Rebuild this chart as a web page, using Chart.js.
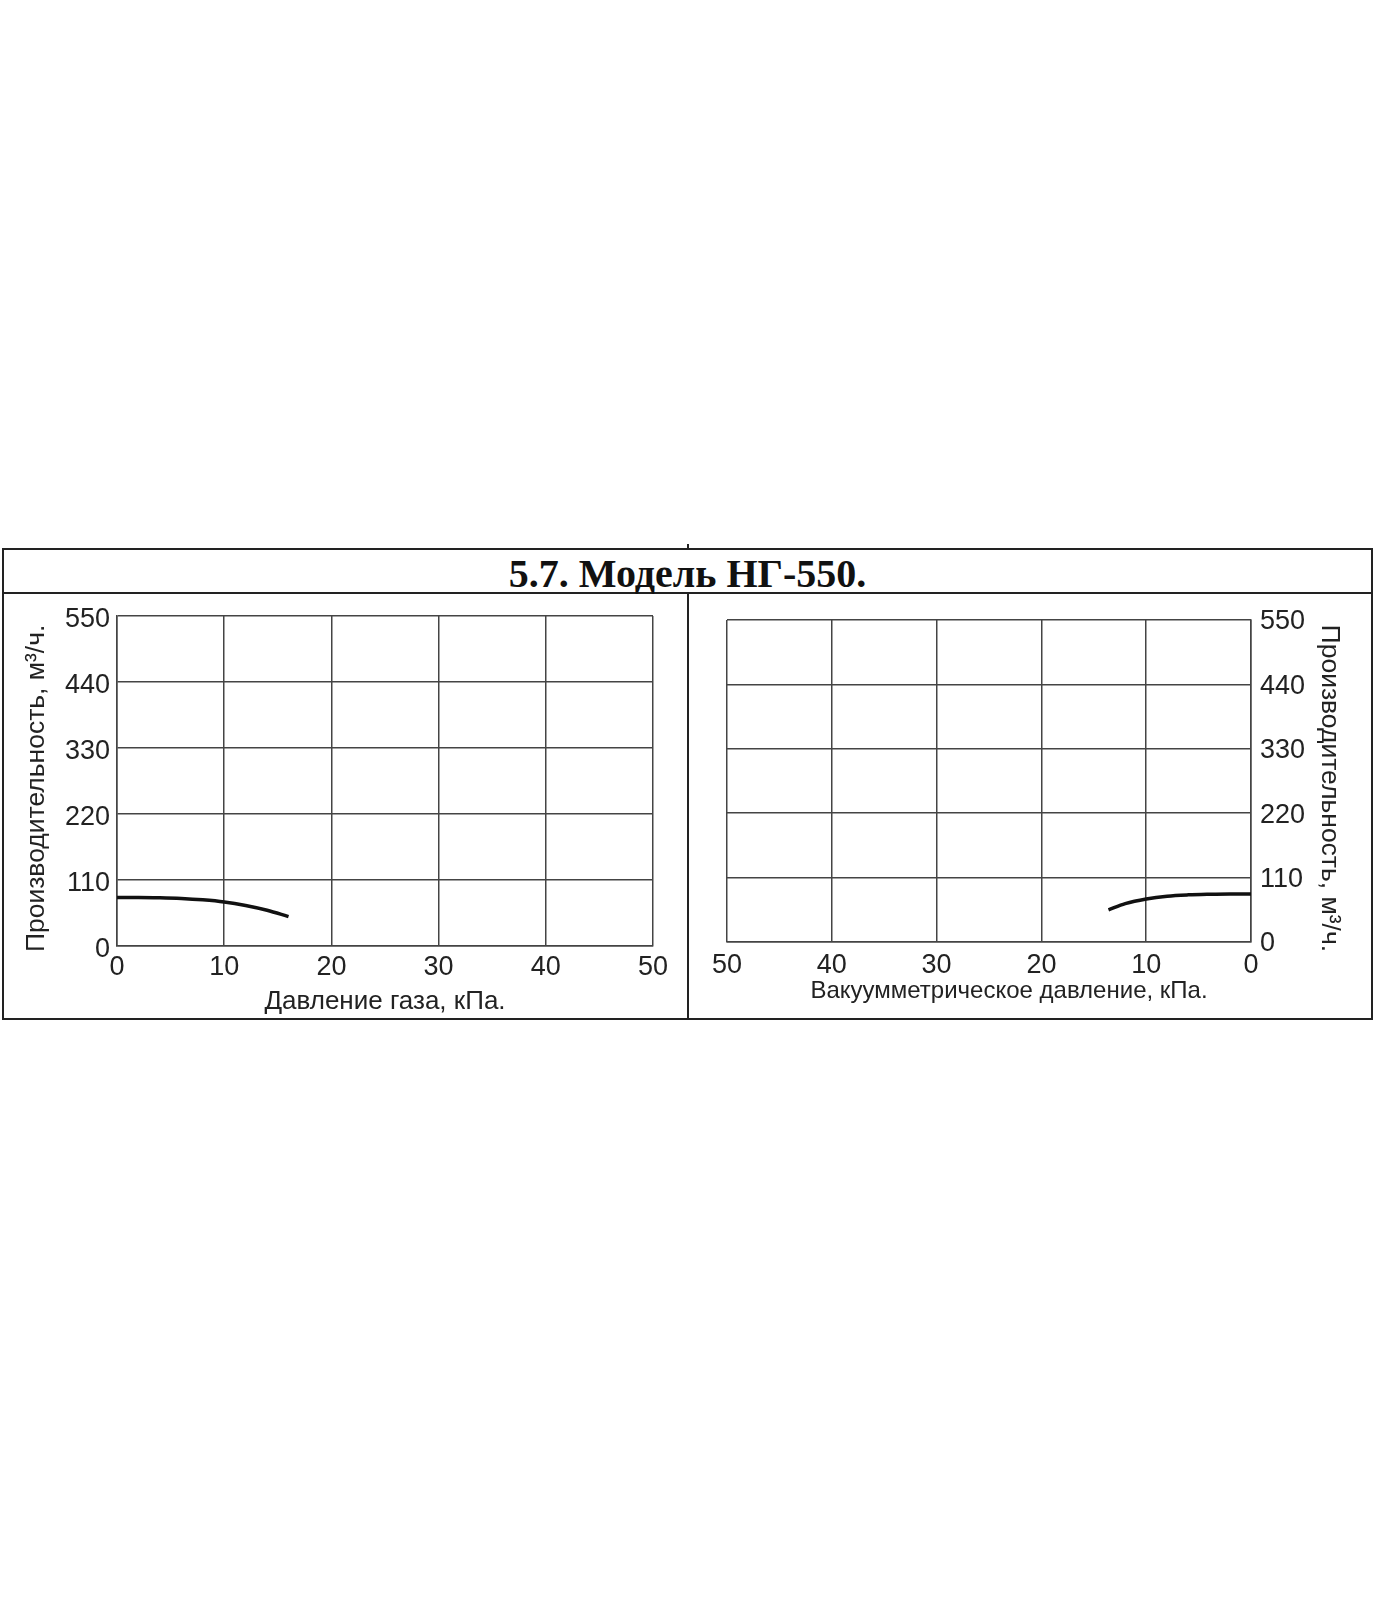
<!DOCTYPE html>
<html>
<head>
<meta charset="utf-8">
<script src="https://cdn.jsdelivr.net/npm/chart.js@4.4.1/dist/chart.umd.min.js"></script>
<style>
    body { margin: 0; background: #fff; width: 1400px; height: 1600px; position: relative; overflow: hidden; }
    .line { position: absolute; background: #222; }
    #title {
        position: absolute; left: 3px; top: 550px; width: 1369px; height: 43px;
        line-height: 43px; text-align: center;
        font: bold 40px "Liberation Serif", "Times New Roman", serif; color: #111;
    }
    canvas { position: absolute; }
</style>
</head>
<body>
<div class="line" style="left:2px;top:548px;width:1371px;height:2px"></div>
<div class="line" style="left:2px;top:1018px;width:1371px;height:2px"></div>
<div class="line" style="left:2px;top:548px;width:2px;height:472px"></div>
<div class="line" style="left:1371px;top:548px;width:2px;height:472px"></div>
<div class="line" style="left:2px;top:592px;width:1371px;height:2px"></div>
<div class="line" style="left:687px;top:544px;width:2px;height:5px"></div>
<div class="line" style="left:687px;top:592px;width:2px;height:428px"></div>
<div id="title">5.7. Модель НГ-550.</div>
<canvas id="left" width="681" height="422" style="left:5px;top:596px"></canvas>
<canvas id="right" width="680" height="422" style="left:690px;top:596px"></canvas>
<script>
// давление газа, кПа -> производительность, м3/ч
const gasPressure = [0, 2, 4, 6, 8, 10, 12, 14, 16];
const gasFlow = [81, 81, 80.5, 79.3, 77, 73.4, 67.5, 59.5, 49];
// вакуумметрическое давление, кПа -> производительность
const vacPressure = [0, 2, 4, 6, 8, 10, 12, 13.6];
const vacFlow = [82, 82, 81.5, 80.5, 78.3, 73.5, 65.5, 55];
const xTicks = [0, 10, 20, 30, 40, 50];
const yTicks = [0, 110, 220, 330, 440, 550];

const xTickFont = { family: '"Liberation Sans", Arial, sans-serif', size: 27 };
// small lineHeight so the axis does not push the plot area down
const yTickFont = { family: '"Liberation Sans", Arial, sans-serif', size: 27, lineHeight: 0.8 };
const yTitleFont = { family: '"Liberation Sans", Arial, sans-serif', size: 26.5 };
const gridColor = '#444';

function points(xs, ys) {
    const ret = [];
    for (let i = 0; i < xs.length; i++) ret.push({ x: xs[i], y: ys[i] });
    return ret;
}

function makeChart(id, xs, ys, opts) {
    return new Chart(document.getElementById(id), {
        type: 'scatter',
        data: {
            datasets: [{
                data: points(xs, ys),
                showLine: true,
                borderColor: '#111',
                borderWidth: 3.5,
                pointRadius: 0,
                cubicInterpolationMode: 'monotone',
                fill: false
            }]
        },
        options: {
            responsive: false,
            animation: false,
            events: [],
            layout: { padding: opts.padding },
            plugins: { legend: { display: false }, tooltip: { enabled: false } },
            scales: {
                x: {
                    type: 'linear',
                    min: xTicks[0],
                    max: xTicks[xTicks.length - 1],
                    reverse: opts.reverse,
                    afterBuildTicks: s => { s.ticks = xTicks.map(v => ({ value: v })); },
                    afterFit: s => { s.height = opts.xHeight; },
                    grid: { color: gridColor, lineWidth: 1.5, drawTicks: false },
                    border: { color: gridColor, width: 1.5 },
                    ticks: { font: xTickFont, color: '#222', padding: opts.xTickPad, maxRotation: 0 },
                    title: {
                        display: true,
                        text: opts.xTitle,
                        font: { family: '"Liberation Sans", Arial, sans-serif', size: opts.xTitleSize },
                        color: '#222',
                        padding: { top: 0, bottom: opts.xTitlePad }
                    }
                },
                y: {
                    type: 'linear',
                    position: opts.yPos,
                    min: yTicks[0],
                    max: yTicks[yTicks.length - 1],
                    afterBuildTicks: s => { s.ticks = yTicks.map(v => ({ value: v })); },
                    afterFit: s => { s.width = opts.yWidth; },
                    grid: { color: gridColor, lineWidth: 1.5, drawTicks: false },
                    border: { color: gridColor, width: 1.5 },
                    ticks: { font: yTickFont, color: '#222', padding: opts.yTickPad, labelOffset: opts.yLabelOffset },
                    title: {
                        display: true,
                        text: opts.yTitle,
                        font: yTitleFont,
                        color: '#222',
                        padding: { top: opts.yTitlePad, bottom: 0 }
                    }
                }
            }
        }
    });
}

window.addEventListener('load', function () {
    makeChart('left', gasPressure, gasFlow, {
        padding: { left: 0, right: 33, top: 20, bottom: 0 },
        reverse: false,
        xHeight: 72,
        yWidth: 112,
        yPos: 'left',
        yTickPad: 7,
        yLabelOffset: 4,
        xTickPad: 5,
        yTitlePad: 16,
        yTitle: 'Производительность, м³/ч.  ',
        xTitle: 'Давление газа, кПа.',
        xTitleSize: 26,
        xTitlePad: 1
    });
    makeChart('right', vacPressure, vacFlow, {
        padding: { left: 37, right: 0, top: 24, bottom: 0 },
        reverse: true,
        xHeight: 76,
        yWidth: 119,
        yPos: 'right',
        yTickPad: 9,
        yLabelOffset: 2,
        xTickPad: 7,
        yTitlePad: 25,
        yTitle: '  Производительность, м³/ч.',
        xTitle: '      Вакуумметрическое давление, кПа.',
        xTitleSize: 24,
        xTitlePad: 12
    });
});
</script>
</body>
</html>
